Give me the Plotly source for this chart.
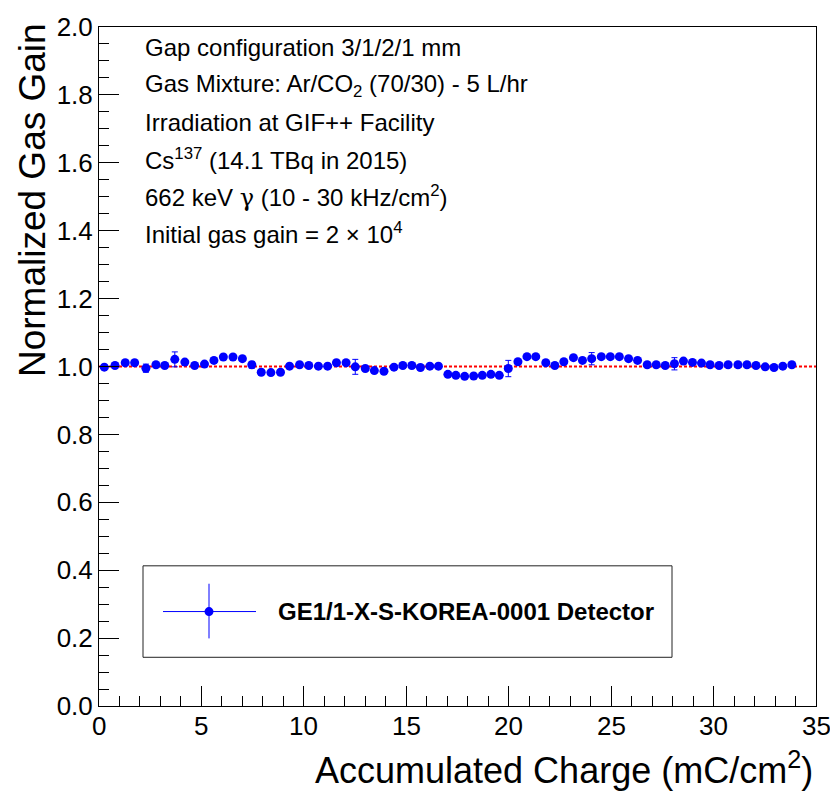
import plotly.graph_objects as go

# Accumulated charge (mC/cm^2)
charge = [0.26, 0.78, 1.28, 1.74, 2.29, 2.78, 3.21, 3.70, 4.19, 4.67,
          5.15, 5.61, 6.07, 6.54, 7.00, 7.46, 7.92, 8.39, 8.86, 9.30,
          9.79, 10.24, 10.71, 11.16, 11.59, 12.06, 12.51, 13.00, 13.44, 13.91,
          14.40, 14.83, 15.27, 15.69, 16.15, 16.57, 17.03, 17.42, 17.85, 18.29,
          18.71, 19.13, 19.54, 19.98, 20.45, 20.89, 21.32, 21.81, 22.25, 22.69,
          23.16, 23.60, 24.05, 24.52, 24.96, 25.40, 25.85, 26.29, 26.76, 27.20,
          27.64, 28.09, 28.53, 28.97, 29.41, 29.83, 30.27, 30.71, 31.19, 31.63,
          32.07, 32.52, 32.95, 33.38, 33.82]

# Normalized gas gain
gain = [0.998, 1.003, 1.011, 1.011, 0.995, 1.005, 1.003, 1.021, 1.013, 1.003,
        1.007, 1.018, 1.028, 1.028, 1.023, 1.005, 0.983, 0.982, 0.983, 1.001,
        1.005, 1.003, 1.001, 1.001, 1.011, 1.011, 0.999, 0.994, 0.988, 0.986,
        0.998, 1.003, 1.003, 0.997, 1.001, 1.001, 0.977, 0.974, 0.971, 0.972,
        0.974, 0.977, 0.974, 0.994, 1.014, 1.029, 1.029, 1.011, 1.003, 1.014,
        1.026, 1.018, 1.023, 1.029, 1.029, 1.029, 1.023, 1.018, 1.005, 1.005,
        1.003, 1.008, 1.016, 1.012, 1.010, 1.005, 1.003, 1.005, 1.005, 1.005,
        1.003, 0.999, 0.997, 1.001, 1.005]

# Statistical uncertainty on the gain
gain_err = [0.004, 0.004, 0.004, 0.004, 0.012, 0.004, 0.004, 0.022, 0.004, 0.004,
            0.004, 0.004, 0.004, 0.004, 0.004, 0.010, 0.004, 0.004, 0.004, 0.004,
            0.004, 0.004, 0.004, 0.004, 0.004, 0.004, 0.022, 0.004, 0.004, 0.004,
            0.004, 0.004, 0.004, 0.004, 0.004, 0.004, 0.004, 0.004, 0.004, 0.004,
            0.004, 0.004, 0.004, 0.024, 0.004, 0.004, 0.004, 0.004, 0.004, 0.004,
            0.004, 0.004, 0.018, 0.004, 0.004, 0.004, 0.004, 0.004, 0.004, 0.004,
            0.004, 0.018, 0.004, 0.004, 0.004, 0.004, 0.004, 0.004, 0.004, 0.004,
            0.004, 0.004, 0.004, 0.004, 0.004]

x_ticks = [0, 5, 10, 15, 20, 25, 30, 35]
x_ticklabels = ["0", "5", "10", "15", "20", "25", "30", "35"]
y_ticks = [0.0, 0.2, 0.4, 0.6, 0.8, 1.0, 1.2, 1.4, 1.6, 1.8, 2.0]
y_ticklabels = ["0.0", "0.2", "0.4", "0.6", "0.8", "1.0", "1.2", "1.4", "1.6", "1.8", "2.0"]

info_lines = [
    "Gap configuration 3/1/2/1 mm",
    "Gas Mixture: Ar/CO<sub>2</sub> (70/30) - 5 L/hr",
    "Irradiation at GIF++ Facility",
    "Cs<sup>137</sup> (14.1 TBq in 2015)",
    "662 keV <span style=\"font-family:'DejaVu Serif'\">\u03b3</span> (10 - 30 kHz/cm<sup>2</sup>)",
    "Initial gas gain = 2 \u00d7 10<sup>4</sup>",
]
legend_label = "GE1/1-X-S-KOREA-0001 Detector"

FONT = "Liberation Sans, Arial, Helvetica, sans-serif"
W, H = 830, 793
L, R, T, B = 99, 14, 23, 87
PW, PH = W - L - R, H - T - B

fig = go.Figure()

# reference line at unit gain
fig.add_trace(go.Scatter(
    x=[0, 35], y=[1.0, 1.0], mode="lines",
    line=dict(color="#ff0000", width=2, dash="3px,2px"),
    hoverinfo="skip", showlegend=False,
))

fig.add_trace(go.Scatter(
    x=charge, y=gain, mode="markers",
    marker=dict(color="#0000ff", size=9),
    error_y=dict(type="data", array=gain_err, color="#0000ff",
                 thickness=1, width=3),
    showlegend=False,
))

def px_x(px):
    return (px - L) / PW

def px_y(py):
    return 1 - (py - T) / PH

annotations = []
line_y = [44, 82, 119, 156, 193, 230]
for txt, yy in zip(info_lines, line_y):
    annotations.append(dict(
        text=txt, xref="paper", yref="paper", x=px_x(143), y=px_y(yy),
        xanchor="left", yanchor="middle", showarrow=False,
        font=dict(family=FONT, size=24, color="black"),
    ))

# x tick labels, placed just under the axis at each tick value
for v, lab in zip(x_ticks, x_ticklabels):
    annotations.append(dict(
        text=lab, xref="x", yref="paper", x=v, y=px_y(709),
        xanchor="center", yanchor="top", showarrow=False,
        font=dict(family=FONT, size=26, color="black"),
    ))

# axis titles
annotations.append(dict(
    text="Normalized Gas Gain", xref="paper", yref="paper",
    x=px_x(32), y=px_y(17), xanchor="center", yanchor="top",
    textangle=-90, showarrow=False,
    font=dict(family=FONT, size=37, color="black"),
))
annotations.append(dict(
    text="Accumulated Charge (mC/cm<sup>2</sup>)", xref="paper", yref="paper",
    x=px_x(815), y=px_y(768), xanchor="right", yanchor="middle",
    showarrow=False, font=dict(family=FONT, size=36, color="black"),
))

# legend box contents
annotations.append(dict(
    text="<b>" + legend_label + "</b>", xref="paper", yref="paper",
    x=px_x(276), y=px_y(611), xanchor="left", yanchor="middle",
    showarrow=False, font=dict(family=FONT, size=24, color="black"),
))

shapes = [
    dict(type="rect", xref="paper", yref="paper",
         x0=px_x(143), x1=px_x(672), y0=px_y(565), y1=px_y(657),
         line=dict(color="#222222", width=1), fillcolor="white", layer="below"),
    dict(type="line", xref="paper", yref="paper",
         x0=px_x(163), x1=px_x(256), y0=px_y(611), y1=px_y(611),
         line=dict(color="#0000ff", width=1)),
    dict(type="line", xref="paper", yref="paper",
         x0=px_x(209), x1=px_x(209), y0=px_y(583), y1=px_y(638),
         line=dict(color="#0000ff", width=1)),
    dict(type="circle", xref="paper", yref="paper",
         x0=px_x(204.5), x1=px_x(213.5), y0=px_y(606.5), y1=px_y(615.5),
         line=dict(color="#0000ff", width=0), fillcolor="#0000ff"),
]

axis_common = dict(
    showline=True, linecolor="black", linewidth=1, mirror=True,
    showgrid=False, zeroline=False, ticks="inside", tickcolor="black",
    ticklen=20, tickwidth=1, tickmode="linear", tick0=0,
    tickfont=dict(family=FONT, size=26, color="black"),
)

fig.update_layout(
    width=W, height=H,
    margin=dict(l=L, r=R, t=T, b=B),
    paper_bgcolor="white", plot_bgcolor="white",
    xaxis=dict(range=[0, 35], dtick=x_ticks[1] - x_ticks[0], showticklabels=False,
               minor=dict(dtick=1, ticks="inside", ticklen=10, tickcolor="black"),
               **axis_common),
    yaxis=dict(range=[0, 2.0], dtick=y_ticks[1] - y_ticks[0], tickformat=".1f",
               minor=dict(dtick=0.05, ticks="inside", ticklen=10, tickcolor="black"),
               **axis_common),
    annotations=annotations,
    shapes=shapes,
    showlegend=False,
)

fig.write_html("out.html")
